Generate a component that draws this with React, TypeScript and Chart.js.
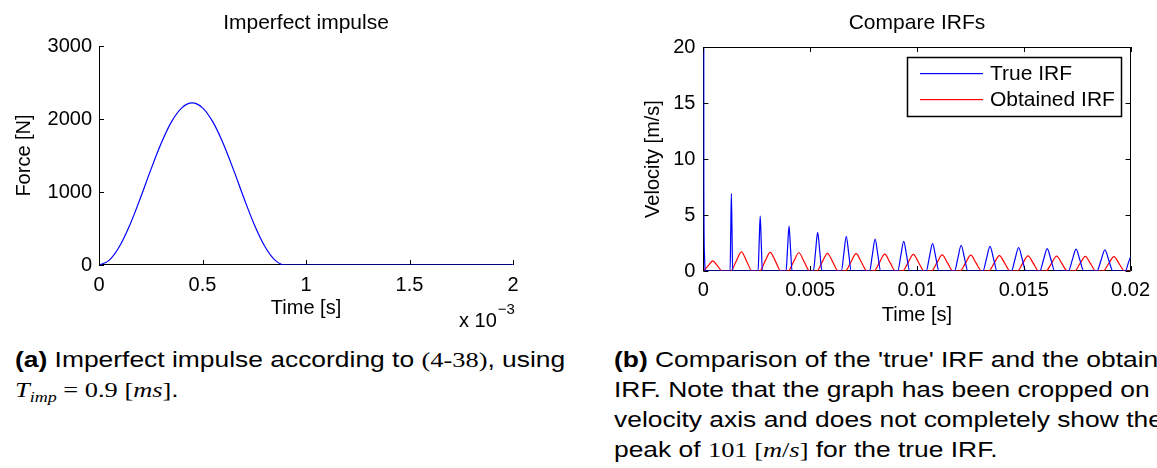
import React, { useEffect, useRef } from 'react';
import { Chart, registerables } from 'chart.js';
Chart.register(...registerables);

// ---------- Data: imperfect impulse ----------
const impulseTime = [0, 0.00005, 0.0001, 0.00015, 0.0002, 0.00025, 0.0003, 0.00035, 0.0004, 0.00045,
  0.0005, 0.00055, 0.0006, 0.00065, 0.0007, 0.00075, 0.0008, 0.00085, 0.0009, 0.002];
const impulseForce = [0, 67, 260, 555, 917, 1303, 1665, 1960, 2153, 2220,
  2153, 1960, 1665, 1303, 917, 555, 260, 67, 0, 0];
const impulseTimeTicks = ['0', '0.5', '1', '1.5', '2'];
const forceTicks = ['0', '1000', '2000', '3000'];

// ---------- Data: compare IRFs ----------
const trueTime = [0, 0.00002, 0.00005, 0.00008,
  0.00125, 0.00128, 0.00131, 0.00134, 0.00137,
  0.00256, 0.00261, 0.00266, 0.00271, 0.00276,
  0.00387, 0.00394, 0.00401, 0.00408, 0.00415,
  0.00515, 0.00525, 0.00535, 0.00545, 0.00555,
  0.00646, 0.006575, 0.00669, 0.006805, 0.00692,
  0.00778, 0.00791, 0.00804, 0.00817, 0.0083,
  0.0091, 0.00924, 0.00938, 0.00952, 0.00966,
  0.01043, 0.01058, 0.01073, 0.01088, 0.01103,
  0.01176, 0.011915, 0.01207, 0.012225, 0.01238,
  0.01309, 0.013255, 0.01342, 0.013585, 0.01375,
  0.01442, 0.01459, 0.01476, 0.01493, 0.0151,
  0.01575, 0.015925, 0.0161, 0.016275, 0.01645,
  0.01709, 0.01727, 0.01745, 0.01763, 0.01781,
  0.01843, 0.018615, 0.0188, 0.018985, 0.01917,
  0.01976, 0.0199, 0.02];
const trueVel = [101, 7.8, 1.5, 0,
  0, 3.45, 6.9, 3.45, 0,
  0, 2.45, 4.9, 2.45, 0,
  0, 2.0, 4.0, 2.0, 0,
  0, 1.72, 3.45, 1.72, 0,
  0, 1.55, 3.1, 1.55, 0,
  0, 1.42, 2.85, 1.42, 0,
  0, 1.32, 2.65, 1.32, 0,
  0, 1.22, 2.45, 1.22, 0,
  0, 1.15, 2.3, 1.15, 0,
  0, 1.1, 2.2, 1.1, 0,
  0, 1.05, 2.1, 1.05, 0,
  0, 1.0, 2.0, 1.0, 0,
  0, 0.97, 1.95, 0.97, 0,
  0, 0.94, 1.88, 0.94, 0,
  0, 0.75, 1.25];
const obtTime = [0, 0.00022, 0.00044, 0.00066, 0.00088,
  0.00128, 0.00153, 0.00178, 0.00203, 0.00228,
  0.00263, 0.00288, 0.00313, 0.00338, 0.00363,
  0.00397, 0.00422, 0.00447, 0.00472, 0.00497,
  0.00531, 0.00556, 0.00581, 0.00606, 0.00631,
  0.00665, 0.0069, 0.00715, 0.0074, 0.00765,
  0.00799, 0.00824, 0.00849, 0.00874, 0.00899,
  0.00933, 0.00958, 0.00983, 0.01008, 0.01033,
  0.01068, 0.01093, 0.01118, 0.01143, 0.01168,
  0.01202, 0.01227, 0.01252, 0.01277, 0.01302,
  0.01336, 0.01361, 0.01386, 0.01411, 0.01436,
  0.0147, 0.01495, 0.0152, 0.01545, 0.0157,
  0.01604, 0.01629, 0.01654, 0.01679, 0.01704,
  0.01738, 0.01763, 0.01788, 0.01813, 0.01838,
  0.01872, 0.01897, 0.01922, 0.01947, 0.01972, 0.02];
const obtVel = [0, 0.45, 0.9, 0.45, 0,
  0, 0.85, 1.7, 0.85, 0,
  0, 0.84, 1.67, 0.84, 0,
  0, 0.82, 1.63, 0.82, 0,
  0, 0.79, 1.58, 0.79, 0,
  0, 0.78, 1.55, 0.78, 0,
  0, 0.75, 1.5, 0.75, 0,
  0, 0.74, 1.48, 0.74, 0,
  0, 0.72, 1.44, 0.72, 0,
  0, 0.7, 1.41, 0.7, 0,
  0, 0.69, 1.38, 0.69, 0,
  0, 0.68, 1.35, 0.68, 0,
  0, 0.66, 1.33, 0.66, 0,
  0, 0.65, 1.31, 0.65, 0,
  0, 0.64, 1.28, 0.64, 0, 0];
const irfTimeTicks = ['0', '0.005', '0.01', '0.015', '0.02'];
const velTicks = ['0', '5', '10', '15', '20'];
const seriesLabels = ['True IRF', 'Obtained IRF'];
const seriesColors = ['#0000ff', '#ff0000'];

const FAMILY = "'Liberation Sans', Arial, Helvetica, sans-serif";
const font20 = { family: FAMILY, size: 20, weight: 'normal' as const };

const axTitle = {
  id: 'axTitle',
  afterDraw(chart: any, _a: any, opts: any) {
    const { ctx, chartArea: a } = chart;
    ctx.save();
    ctx.fillStyle = '#000';
    ctx.font = `21px ${FAMILY}`;
    ctx.textAlign = 'center';
    ctx.textBaseline = 'middle';
    ctx.fillText(opts.text, (a.left + a.right) / 2, 23);
    ctx.restore();
  },
};

const matlabAxes = {
  id: 'matlabAxes',
  beforeDatasetsDraw(chart: any, _a: any, opts: any) {
    const { ctx, chartArea: a } = chart;
    ctx.save();
    ctx.strokeStyle = '#000';
    ctx.lineWidth = 1;
    const L = Math.round(a.left) + 0.5, R = Math.round(a.right) - 0.5;
    const T = Math.round(a.top) + 0.5, B = Math.round(a.bottom) - 0.5;
    ctx.beginPath();
    ctx.moveTo(L, T); ctx.lineTo(L, B); ctx.lineTo(R, B);
    if (opts.box) { ctx.lineTo(R, T); ctx.lineTo(L, T); }
    ctx.stroke();
    ctx.restore();
  },
  afterDatasetsDraw(chart: any, _a: any, opts: any) {
    const { ctx, chartArea: a } = chart;
    const xs = chart.scales.x, ys = chart.scales.y;
    const len = 5;
    ctx.save();
    ctx.strokeStyle = '#000';
    ctx.lineWidth = 1;
    ctx.beginPath();
    xs.ticks.forEach((t: any) => {
      const px = Math.round(xs.getPixelForValue(t.value)) + 0.5;
      ctx.moveTo(px, a.bottom); ctx.lineTo(px, a.bottom - len);
      if (opts.box) { ctx.moveTo(px, a.top); ctx.lineTo(px, a.top + len); }
    });
    ys.ticks.forEach((t: any) => {
      const py = Math.round(ys.getPixelForValue(t.value)) + 0.5;
      ctx.moveTo(a.left, py); ctx.lineTo(a.left + len, py);
      if (opts.box) { ctx.moveTo(a.right, py); ctx.lineTo(a.right - len, py); }
    });
    ctx.stroke();
    ctx.restore();
  },
};

const exponentLabel = {
  id: 'exponentLabel',
  afterDraw(chart: any) {
    const { ctx } = chart;
    ctx.save();
    ctx.fillStyle = '#000';
    ctx.textBaseline = 'middle';
    ctx.font = `20px ${FAMILY}`;
    ctx.fillText('x 10', 459, 321);
    const w = ctx.measureText('x 10').width;
    ctx.font = `15px ${FAMILY}`;
    ctx.fillText('\u22123', 459 + w + 1, 310);
    ctx.restore();
  },
};

const boxLegend = {
  id: 'boxLegend',
  afterDraw(chart: any) {
    const { ctx } = chart;
    const x0 = 317, y0 = 57, w = 214, h = 59;
    ctx.save();
    ctx.fillStyle = '#ffffff';
    ctx.fillRect(x0, y0, w, h);
    ctx.strokeStyle = '#000000';
    ctx.lineWidth = 1.5;
    ctx.strokeRect(x0 + 0.5, y0 + 0.5, w, h);
    ctx.font = `21px ${FAMILY}`;
    ctx.textBaseline = 'middle';
    chart.data.datasets.forEach((ds: any, i: number) => {
      const y = y0 + 16 + i * 26;
      ctx.fillStyle = seriesColors[i];
      ctx.fillRect(x0 + 13, y, 63, 1.2);
      ctx.fillStyle = '#000000';
      ctx.fillText(ds.label, x0 + 83, y + 1);
    });
    ctx.restore();
  },
};

function makeImpulseChart(canvas: HTMLCanvasElement) {
  return new Chart(canvas, {
    type: 'line',
    data: {
      datasets: [{
        label: 'Force',
        data: impulseTime.map((t, i) => ({ x: t, y: impulseForce[i] })),
        borderColor: seriesColors[0],
        borderWidth: 1.2,
        pointRadius: 0,
        fill: false,
        cubicInterpolationMode: 'monotone',
      }],
    },
    options: {
      responsive: false,
      animation: false,
      events: [],
      layout: { padding: { left: 0, right: 47, top: 46, bottom: 0 } },
      plugins: {
        legend: { display: false },
        tooltip: { enabled: false },
        title: { display: false },
        axTitle: { text: 'Imperfect impulse' },
        matlabAxes: { box: false },
      } as any,
      scales: {
        x: {
          type: 'linear', min: 0, max: 0.002,
          afterFit: (s: any) => { s.height = 75; },
          grid: { display: false, drawTicks: false },
          border: { display: false },
          ticks: { stepSize: 0.0005, padding: 8, color: '#000', font: font20, maxRotation: 0, autoSkip: false,
            callback: (_v: any, i: number) => impulseTimeTicks[i] },
          title: { display: true, text: 'Time [s]', color: '#000', font: font20, padding: { top: 0, bottom: 20 } },
        },
        y: {
          min: 0, max: 3000,
          afterFit: (s: any) => { s.width = 99; },
          grid: { display: false, drawTicks: false },
          border: { display: false },
          ticks: { stepSize: 1000, padding: 7, color: '#000', font: font20,
            callback: (_v: any, i: number) => forceTicks[i] },
          title: { display: true, text: 'Force [N]', color: '#000', font: font20, padding: { top: 12, bottom: 0 } },
        },
      },
    } as any,
    plugins: [axTitle, matlabAxes, exponentLabel],
  });
}

function makeIrfChart(canvas: HTMLCanvasElement) {
  return new Chart(canvas, {
    type: 'line',
    data: {
      datasets: [
        {
          label: seriesLabels[0],
          data: trueTime.map((t, i) => ({ x: t, y: trueVel[i] })),
          borderColor: seriesColors[0],
          borderWidth: 1.2,
          pointRadius: 0,
          fill: false,
          cubicInterpolationMode: 'monotone',
        },
        {
          label: seriesLabels[1],
          data: obtTime.map((t, i) => ({ x: t, y: obtVel[i] })),
          borderColor: seriesColors[1],
          borderWidth: 1.2,
          pointRadius: 0,
          fill: false,
          cubicInterpolationMode: 'monotone',
        },
      ],
    },
    options: {
      responsive: false,
      animation: false,
      events: [],
      layout: { padding: { left: 0, right: 25, top: 47, bottom: 0 } },
      plugins: {
        legend: { display: false },
        tooltip: { enabled: false },
        title: { display: false },
        axTitle: { text: 'Compare IRFs' },
        matlabAxes: { box: true },
      } as any,
      scales: {
        x: {
          type: 'linear', min: 0, max: 0.02,
          afterFit: (s: any) => { s.height = 69; },
          grid: { display: false, drawTicks: false },
          border: { display: false },
          ticks: { stepSize: 0.005, padding: 7, color: '#000', font: font20, maxRotation: 0, autoSkip: false,
            callback: (_v: any, i: number) => irfTimeTicks[i] },
          title: { display: true, text: 'Time [s]', color: '#000', font: font20, padding: { top: 0, bottom: 13 } },
        },
        y: {
          min: 0, max: 20,
          afterFit: (s: any) => { s.width = 113.4; },
          grid: { display: false, drawTicks: false },
          border: { display: false },
          ticks: { stepSize: 5, padding: 8, color: '#000', font: font20,
            callback: (_v: any, i: number) => velTicks[i] },
          title: { display: true, text: 'Velocity [m/s]', color: '#000', font: font20, padding: { top: 51, bottom: 0 } },
        },
      },
    } as any,
    plugins: [axTitle, matlabAxes, boxLegend],
  });
}

const capStyle: React.CSSProperties = {
  position: 'absolute',
  fontFamily: FAMILY,
  fontSize: 22,
  lineHeight: '30px',
  whiteSpace: 'nowrap',
  color: '#000',
  transform: 'scaleX(1.2)',
  transformOrigin: '0 0',
};
const serif: React.CSSProperties = { fontFamily: "'Liberation Serif', 'DejaVu Serif', serif" };
const mathIt: React.CSSProperties = { fontFamily: "'Liberation Serif', 'DejaVu Serif', serif", fontStyle: 'italic' };
const subStyle: React.CSSProperties = { ...mathIt, fontSize: 15, position: 'relative', top: 5 };

export default function App() {
  const leftRef = useRef<HTMLCanvasElement>(null);
  const rightRef = useRef<HTMLCanvasElement>(null);
  useEffect(() => {
    const c1 = makeImpulseChart(leftRef.current!);
    const c2 = makeIrfChart(rightRef.current!);
    return () => { c1.destroy(); c2.destroy(); };
  }, []);
  return (
    <div style={{ position: 'fixed', left: 0, top: 0, width: 1157, height: 468, overflow: 'hidden', background: '#fff' }}>
      <canvas ref={leftRef} width={560} height={340} style={{ position: 'absolute', left: 0, top: 0 }} />
      <canvas ref={rightRef} width={567} height={340} style={{ position: 'absolute', left: 590, top: 0 }} />
      <div style={{ ...capStyle, left: 15, top: 345 }}>
        <b>(a)</b> Imperfect impulse according to <span style={serif}>(4-38)</span>, using<br />
        <span style={mathIt}>T</span><span style={subStyle}>imp</span><span style={serif}> = 0.9 [</span><span style={mathIt}>ms</span><span style={serif}>]</span>.
      </div>
      <div style={{ ...capStyle, left: 614, top: 345 }}>
        <b>(b)</b> Comparison of the 'true' IRF and the obtained<br />
        IRF. Note that the graph has been cropped on the<br />
        velocity axis and does not completely show the first<br />
        peak of <span style={serif}>101 [</span><span style={mathIt}>m</span><span style={serif}>/</span><span style={mathIt}>s</span><span style={serif}>]</span> for the true IRF.
      </div>
    </div>
  );
}
